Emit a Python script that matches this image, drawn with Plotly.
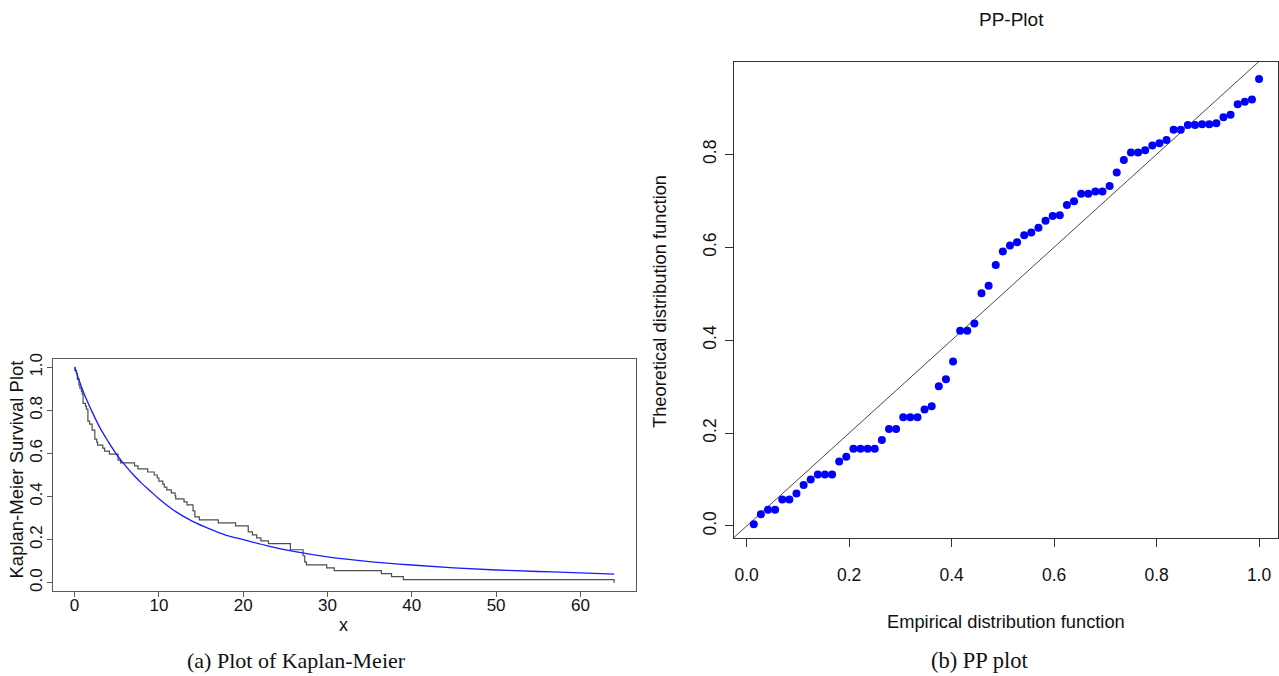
import plotly.graph_objects as go

# ---------------- Data ----------------
# Kaplan-Meier step function: distinct event times and survival after each
km_time = [0.04, 0.23, 0.32, 0.52, 0.63, 0.80, 0.90, 1.01, 1.30, 1.40, 1.58, 1.78,
           2.08, 2.40, 2.63, 2.73, 3.34, 3.57, 4.13, 5.15, 5.45, 7.11, 7.52, 8.67,
           9.45, 9.81, 10.0, 10.46, 10.64, 10.94, 11.47, 11.92, 12.0, 12.98, 13.34,
           14.05, 14.27, 14.8, 17.04, 19.1, 20.6, 21.1, 21.6, 22.1, 23.0, 25.6,
           27.1, 27.3, 27.5, 29.9, 30.8, 36.4, 37.6, 39.0, 64.0]
km_surv = [0.986, 0.972, 0.944, 0.917, 0.903, 0.889, 0.875, 0.833, 0.819, 0.806,
           0.750, 0.736, 0.708, 0.667, 0.653, 0.639, 0.625, 0.611, 0.597, 0.569,
           0.556, 0.542, 0.528, 0.514, 0.500, 0.486, 0.472, 0.458, 0.444, 0.431,
           0.417, 0.403, 0.389, 0.375, 0.361, 0.333, 0.306, 0.292, 0.278, 0.264,
           0.236, 0.222, 0.208, 0.194, 0.181, 0.153, 0.125, 0.097, 0.083, 0.069,
           0.056, 0.042, 0.028, 0.014, 0.0]

# Fitted survival curve (blue)
fit_x = [0, 0.5, 1, 2, 3, 4, 5, 6, 7, 8, 9, 10, 12, 14, 16, 18, 20, 23, 26, 30,
         35, 40, 45, 50, 55, 60, 64]
fit_s = [1.0, 0.945, 0.89, 0.80, 0.72, 0.655, 0.595, 0.545, 0.50, 0.46, 0.425,
         0.39, 0.33, 0.285, 0.25, 0.22, 0.20, 0.17, 0.145, 0.12, 0.098, 0.082,
         0.069, 0.059, 0.052, 0.046, 0.040]

# PP plot: theoretical distribution function values for i/72, i = 1..72
pp_theoretical = [0.004, 0.025, 0.035, 0.035, 0.057, 0.057, 0.070, 0.088, 0.100,
                  0.111, 0.111, 0.111, 0.139, 0.149, 0.166, 0.166, 0.166, 0.166,
                  0.185, 0.209, 0.209, 0.234, 0.234, 0.234, 0.251, 0.258, 0.301,
                  0.316, 0.354, 0.420, 0.420, 0.436, 0.501, 0.517, 0.562, 0.591,
                  0.604, 0.611, 0.626, 0.632, 0.642, 0.657, 0.667, 0.669, 0.691,
                  0.699, 0.715, 0.715, 0.720, 0.720, 0.732, 0.761, 0.788, 0.804,
                  0.804, 0.809, 0.819, 0.824, 0.831, 0.853, 0.853, 0.863, 0.863,
                  0.865, 0.865, 0.867, 0.880, 0.885, 0.908, 0.913, 0.918, 0.962]
n_obs = len(pp_theoretical)
pp_empirical = [(i + 1) / n_obs for i in range(n_obs)]

# reference line y = x (extends past the plot, clipped by the axes)
ref_line = [-0.2, 1.2]

km_xticks = [0, 10, 20, 30, 40, 50, 60]
km_yticks = [0.0, 0.2, 0.4, 0.6, 0.8, 1.0]
pp_xticks = [0.0, 0.2, 0.4, 0.6, 0.8, 1.0]
pp_yticks = [0.0, 0.2, 0.4, 0.6, 0.8]

# ---------------- Figure ----------------
W, H = 1279, 676
SANS = "Liberation Sans, Arial, Helvetica, sans-serif"
SERIF = "Liberation Serif, Times New Roman, serif"
INK = "#111111"

fig = go.Figure()

fig.add_trace(go.Scatter(
    x=[0] + km_time, y=[1.0] + km_surv, mode="lines", line_shape="hv",
    line=dict(color="#4d4d4d", width=1.2), xaxis="x", yaxis="y", showlegend=False,
    hoverinfo="skip"))
fig.add_trace(go.Scatter(
    x=fit_x, y=fit_s, mode="lines", line_shape="spline",
    line=dict(color="#1a1aff", width=1.3), xaxis="x", yaxis="y", showlegend=False))

fig.add_trace(go.Scatter(
    x=ref_line, y=ref_line, mode="lines", line=dict(color="#333333", width=0.9),
    xaxis="x2", yaxis="y2", showlegend=False, hoverinfo="skip"))
fig.add_trace(go.Scatter(
    x=pp_empirical, y=pp_theoretical, mode="markers",
    marker=dict(color="#0000ff", size=8, line=dict(width=0)),
    xaxis="x2", yaxis="y2", showlegend=False))


def px_x(p):
    return p / W


def px_y(p):
    return 1 - p / H


axis_common = dict(showgrid=False, zeroline=False, showline=True, mirror=True,
                   ticks="outside", linewidth=1, automargin=False)

fig.update_layout(
    width=W, height=H, margin=dict(l=0, r=0, t=0, b=0),
    paper_bgcolor="white", plot_bgcolor="white",
    xaxis=dict(domain=[px_x(53), px_x(635.7)], range=[-2.56, 66.56],
               tickvals=km_xticks, ticklen=5, linecolor="#5a5a5a", tickcolor="#5a5a5a",
               tickfont=dict(family=SANS, size=17, color=INK),
               ticklabelstandoff=-7, anchor="y", **axis_common),
    yaxis=dict(domain=[px_y(591.3), px_y(358.7)], range=[-0.04, 1.04],
               tickvals=km_yticks, tickformat=".1f", tickangle=-90, ticklen=5,
               linecolor="#5a5a5a", tickcolor="#5a5a5a",
               tickfont=dict(family=SANS, size=17, color=INK),
               ticklabelstandoff=-2, anchor="x", **axis_common),
    xaxis2=dict(domain=[px_x(733.6), px_x(1278)], range=[-0.0255, 1.037],
                tickvals=pp_xticks, tickformat=".1f", ticklen=8,
                linecolor="#333", tickcolor="#333",
                tickfont=dict(family=SANS, size=17.5, color=INK),
                ticklabelstandoff=13, anchor="y2", **axis_common),
    yaxis2=dict(domain=[px_y(538.3), px_y(61.7)], range=[-0.0265, 0.9994],
                tickvals=pp_yticks, tickformat=".1f", tickangle=-90, ticklen=8,
                linecolor="#333", tickcolor="#333",
                tickfont=dict(family=SANS, size=17.5, color=INK),
                ticklabelstandoff=2, anchor="x2", **axis_common),
)

annotations = [
    dict(text="Kaplan-Meier Survival Plot", x=px_x(15.5), y=px_y(470), textangle=-90,
         font=dict(family=SANS, size=18.5, color=INK)),
    dict(text="x", x=px_x(343), y=px_y(625), font=dict(family=SANS, size=18, color=INK)),
    dict(text="Theoretical distribution function", x=px_x(660), y=px_y(302), textangle=-90,
         font=dict(family=SANS, size=18.3, color=INK)),
    dict(text="Empirical distribution function", x=px_x(1005.8), y=px_y(621),
         font=dict(family=SANS, size=18.3, color=INK)),
    dict(text="PP-Plot", x=px_x(1012), y=px_y(19.5), font=dict(family=SANS, size=19, color=INK)),
    dict(text="(a) Plot of Kaplan-Meier", x=px_x(296), y=px_y(660),
         font=dict(family=SERIF, size=22, color=INK)),
    dict(text="(b) PP plot", x=px_x(979), y=px_y(660),
         font=dict(family=SERIF, size=22.5, color=INK)),
]
for a in annotations:
    a.update(xref="paper", yref="paper", showarrow=False, xanchor="center", yanchor="middle")
fig.update_layout(annotations=annotations)

fig.write_html("out.html")
